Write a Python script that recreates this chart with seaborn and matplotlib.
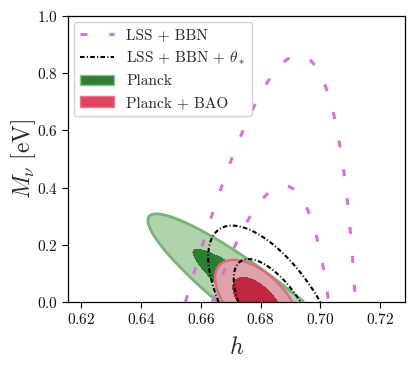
import numpy as np
import matplotlib.pyplot as plt
import seaborn as sns
from matplotlib.lines import Line2D
from matplotlib.patches import Patch

# Style
sns.set_theme(style="ticks")
plt.rcParams.update({
    'font.family': 'serif',
    'font.serif': ['cmr10'],
    'mathtext.fontset': 'cm',
    'axes.formatter.use_mathtext': True,
    'axes.unicode_minus': False,
})

# Gaussian-like posterior shapes
# order: LSS+BBN, LSS+BBN+theta*, Planck, Planck+BAO
labels = ['LSS + BBN',
          r'LSS + BBN + $\theta_*$',
          'Planck',
          'Planck + BAO']
h_center = [0.6833, 0.6830, 0.6801, 0.6790]
h_slope = [0.011, -0.047, -0.1136, -0.055]
h_width = [0.01053, 0.00685, 0.0058, 0.0047]
m_linear = [8.4, 5.37, 0.0, 0.0]
m_quad = [0.07, 66.4, 65.0, 285.0]
chi2_offset = [-1.13, 0.0, 0.0, 0.0]
levels = [2.30, 6.17]

h_range = (0.6155, 0.7284)
m_range = (0.0, 1.0)

hh = np.linspace(h_range[0], h_range[1], 800)
mm = np.linspace(m_range[0], m_range[1], 800)
H, M = np.meshgrid(hh, mm)


def chi2(i):
    return (((H - h_center[i] - h_slope[i] * M) / h_width[i]) ** 2
            + m_linear[i] * M + m_quad[i] * M ** 2 + chi2_offset[i])


fig = plt.figure(figsize=(4.15, 3.71), dpi=100)
ax = fig.add_axes([0.164, 0.186, 0.812, 0.771])

# Planck (green)
ax.contourf(H, M, chi2(2), levels=[-50, levels[0], levels[1]],
            colors=['#2f7d33', '#b0d3ab'])
ax.contour(H, M, chi2(2), levels=[levels[1]], colors=['#78b478'], linewidths=2.0)

# Planck + BAO (crimson)
ax.contourf(H, M, chi2(3), levels=[-50, levels[0], levels[1]],
            colors=['#c0283f', '#dea3aa'])
ax.contour(H, M, chi2(3), levels=[levels[1]], colors=['#e06a84'], linewidths=1.8)

# LSS + BBN (orchid dashed)
lss_ls = (0, (2.3, 7.2))
cs = ax.contour(H, M, chi2(0), levels=levels, colors=['orchid'], linewidths=2.2)
cs.set_linestyle(lss_ls)

# LSS + BBN + theta* (black dash-dot)
theta_ls = (0, (2.2, 1.1, 0.5, 1.1))
cs = ax.contour(H, M, chi2(1), levels=levels, colors=['black'], linewidths=1.5)
cs.set_linestyle(theta_ls)

ax.set_xlim(*h_range)
ax.set_ylim(*m_range)
ax.set_xticks([0.62, 0.64, 0.66, 0.68, 0.70, 0.72])
ax.set_yticks([0.0, 0.2, 0.4, 0.6, 0.8, 1.0])
ax.tick_params(direction='out', length=4, width=0.8, labelsize=11,
               colors='black', labelcolor='#111111')
for sp in ax.spines.values():
    sp.set_color('black')
    sp.set_linewidth(0.9)

ax.set_xlabel(r'$h$', fontsize=17, labelpad=7)
ax.set_ylabel(r'$M_\nu\ [\mathrm{eV}]$', fontsize=17, labelpad=-1)

handles = [
    Line2D([], [], color='orchid', lw=2.2, ls=lss_ls),
    Line2D([], [], color='black', lw=1.5, ls=theta_ls),
    Patch(facecolor='#2f7d33', edgecolor='#8cc48c', lw=1.0),
    Patch(facecolor='#e0445f', edgecolor='#e87890', lw=1.0),
]
ax.legend(handles, labels, loc='upper left', fontsize=11, frameon=True,
          fancybox=True, framealpha=0.85, edgecolor='#cccccc',
          borderaxespad=0.4, handlelength=2.2)

fig.savefig('out.png', dpi=100)
